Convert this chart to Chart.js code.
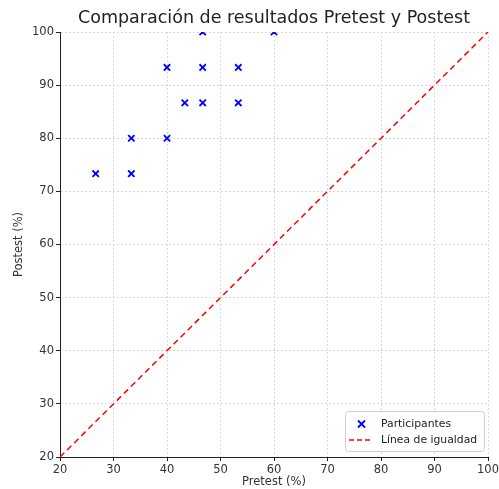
<!DOCTYPE html>
<html>
<head>
<meta charset="utf-8">
<script src="https://cdn.jsdelivr.net/npm/chart.js@4"></script>
<style>
  html, body { margin: 0; padding: 0; background: #fff; }
  #wrap { width: 499px; height: 489px; }
</style>
</head>
<body>
<div id="wrap"><canvas id="chart"></canvas></div>
<script>
// Data
const pretest = [26.67, 33.33, 33.33, 40, 40, 43.33, 46.67, 46.67, 46.67, 53.33, 53.33, 60];
const postest = [73.33, 80, 73.33, 93.33, 80, 86.67, 100, 93.33, 86.67, 93.33, 86.67, 100];
const equalityLine = [20, 100];
const axisMin = 20;
const axisMax = 100;

const points = pretest.map((x, i) => ({ x: x, y: postest[i] }));
const diagonal = equalityLine.map(v => ({ x: v, y: v }));

const font = "'DejaVu Sans', sans-serif";

// legend drawn inside the plot, lower right
const insideLegend = {
    id: 'insideLegend',
    afterDraw(chart) {
        const ctx = chart.ctx;
        const area = chart.chartArea;
        const w = 139, h = 40;
        const x0 = area.right - w - 4;
        const y0 = area.bottom - h - 6;
        ctx.save();
        ctx.fillStyle = 'rgba(255,255,255,0.85)';
        ctx.strokeStyle = '#d0d0d0';
        ctx.lineWidth = 1;
        ctx.beginPath();
        ctx.roundRect(x0 + 0.5, y0 + 0.5, w, h, 3);
        ctx.fill();
        ctx.stroke();

        ctx.font = '10.8px ' + font;
        ctx.fillStyle = '#222';
        ctx.textBaseline = 'middle';
        const ds = chart.data.datasets;

        // marker
        const my = y0 + 13;
        ctx.strokeStyle = ds[0].borderColor;
        ctx.lineWidth = 1.8;
        ctx.beginPath();
        ctx.moveTo(x0 + 13, my - 3.5); ctx.lineTo(x0 + 20, my + 3.5);
        ctx.moveTo(x0 + 20, my - 3.5); ctx.lineTo(x0 + 13, my + 3.5);
        ctx.stroke();
        ctx.fillText(ds[0].label, x0 + 36, my);

        // dashed line
        const ly = y0 + 29;
        ctx.strokeStyle = ds[1].borderColor;
        ctx.lineWidth = 1.5;
        ctx.setLineDash([5, 3]);
        ctx.beginPath();
        ctx.moveTo(x0 + 4, ly); ctx.lineTo(x0 + 28, ly);
        ctx.stroke();
        ctx.setLineDash([]);
        ctx.fillText(ds[1].label, x0 + 36, ly);
        ctx.restore();
    }
};

const ctx = document.getElementById('chart').getContext('2d');
const chart = new Chart(ctx, {
    type: 'scatter',
    data: {
        datasets: [{
            label: 'Participantes',
            data: points,
            pointStyle: 'crossRot',
            pointRadius: 4.5,
            pointBorderWidth: 1.8,
            borderColor: '#0000ff',
            backgroundColor: '#0000ff',
            clip: 0
        }, {
            type: 'line',
            label: 'Línea de igualdad',
            data: diagonal,
            borderColor: '#ff0000',
            borderWidth: 1.5,
            borderDash: [6, 4],
            pointRadius: 0,
            fill: false,
            clip: 0
        }]
    },
    options: {
        responsive: true,
        maintainAspectRatio: false,
        animation: false,
        layout: { padding: { top: 0, right: 11, left: 0, bottom: 0 } },
        plugins: {
            legend: { display: false },
            tooltip: { enabled: false },
            title: {
                display: true,
                text: 'Comparación de resultados Pretest y Postest',
                fullSize: false,
                color: '#222',
                font: { family: font, size: 17.5, weight: 'normal' },
                padding: { top: 8, bottom: 3 }
            }
        },
        scales: {
            x: {
                type: 'linear',
                min: axisMin,
                max: axisMax,
                ticks: { stepSize: 10, color: '#333', font: { family: font, size: 11.5 }, padding: 2, maxRotation: 0 },
                grid: { color: '#d9d9d9', tickColor: '#222', tickLength: 4, tickBorderDash: [] },
                border: { color: '#222', width: 1, dash: [2, 2] },
                title: { display: true, text: 'Pretest (%)', color: '#333', font: { family: font, size: 11.5 }, padding: { top: 0, bottom: 0 } },
                afterFit(scale) {
                    scale.height = 32;
                    scale.paddingRight = 0;
                    scale.paddingLeft = 0;
                }
            },
            y: {
                type: 'linear',
                min: axisMin,
                max: axisMax,
                ticks: { stepSize: 10, color: '#333', font: { family: font, size: 11.5 }, padding: 2 },
                grid: { color: '#d9d9d9', tickColor: '#222', tickLength: 4, tickBorderDash: [] },
                border: { color: '#222', width: 1, dash: [2, 2] },
                title: { display: true, text: 'Postest (%)', color: '#333', font: { family: font, size: 11.5 }, padding: { top: 12, bottom: 0 } },
                afterFit(scale) { scale.width = 60; }
            }
        }
    },
    plugins: [insideLegend]
});
</script>
</body>
</html>
